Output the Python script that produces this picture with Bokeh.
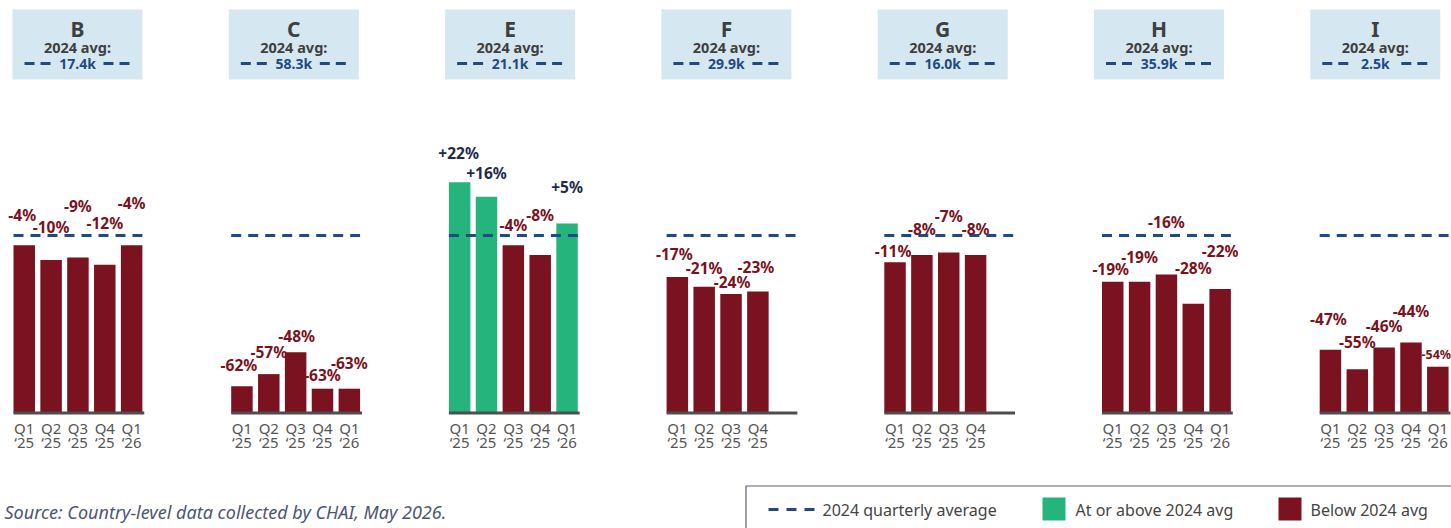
from bokeh.plotting import figure
from bokeh.models import Range1d
from bokeh.core.properties import value
from bokeh.embed import file_html
from bokeh.resources import INLINE

# ---- data -------------------------------------------------------------
countries = ["B", "C", "E", "F", "G", "H", "I"]
avg_2024 = ["17.4k", "58.3k", "21.1k", "29.9k", "16.0k", "35.9k", "2.5k"]
quarters = ["Q1", "Q2", "Q3", "Q4", "Q1"]
quarter_years = ["\u201825", "\u201825", "\u201825", "\u201825", "\u201826"]

# % change versus the 2024 quarterly average
pct_B = [-4, -10, -9, -12, -4]
pct_C = [-62, -57, -48, -63, -63]
pct_E = [22, 16, -4, -8, 5]
pct_F = [-17, -21, -24, -23]
pct_G = [-11, -8, -7, -8]
pct_H = [-19, -19, -16, -28, -22]
pct_I = [-47, -55, -46, -44, -54]
panel_pcts = [pct_B, pct_C, pct_E, pct_F, pct_G, pct_H, pct_I]

# ---- layout / style ---------------------------------------------------
W, H = 1451, 528
FONT = value("Noto Sans")
MAROON = "#7a1220"
GREEN = "#25b47c"
NAVY = "#1f4a82"
DARK_TEXT = "#3f3f3f"
POS_TEXT = "#1c2a4a"

PX_PER_PCT = 2.43          # vertical scale
Y_FLOOR = -73              # value at the bar baseline
FLOOR_PX = 412.5           # baseline distance from top of canvas
SLOT_PX = 26.85            # horizontal size of one quarter slot
FIRST_CENTER_PX = 13 + 0.4 * SLOT_PX
PANEL_STEP = 217.7 / SLOT_PX
BAR_W = 0.8
HEADER_STEP_PX = 216.3

# how far each value label sits above its bar top (px)
label_lift = [
    [30, 33, 51, 42, 42],
    [21, 22, 16, 14, 26],
    [29, 24, 20, 40, 36],
    [23, 19, 12, 25],
    [11, 26, 37, 26],
    [13, 25, 52, 36, 38],
    [31, 27, 21, 32, 12],
]
# sideways nudge of value labels (px)
label_shift = [
    [-2, 0, 0, 0, 0],
    [-3, 0, 1, 0, 0],
    [-1, 0, 0, 0, 0],
    [-3, 0, 1, -2],
    [-2, 0, 0, 0],
    [-2, 0, 0, 0, 0],
    [-2, 0, 0, 0, -1.5],
]
LABEL_SIZE = "15.5px"
EDGE_LABEL_SIZE = "12.5px"   # last label of the right-most panel, kept inside the canvas

x_start = -FIRST_CENTER_PX / SLOT_PX
x_end = x_start + W / SLOT_PX
y_start = Y_FLOOR - (H - FLOOR_PX) / PX_PER_PCT
y_end = Y_FLOOR + FLOOR_PX / PX_PER_PCT

p = figure(width=W, height=H, x_range=Range1d(x_start, x_end),
           y_range=Range1d(y_start, y_end), output_backend="svg",
           toolbar_location=None, x_axis_type=None, y_axis_type=None,
           min_border=0, outline_line_color=None)
p.extra_x_ranges = {"px": Range1d(0, W)}
p.extra_y_ranges = {"px": Range1d(H, 0)}
PX = dict(x_range_name="px", y_range_name="px")
p.background_fill_color = "white"
p.border_fill_color = "white"

# ---- header boxes -----------------------------------------------------
for k, (name, avg) in enumerate(zip(countries, avg_2024)):
    left = 12 + k * HEADER_STEP_PX
    cx = left + 65
    p.quad(left=[left], right=[left + 130], top=[9], bottom=[79],
           fill_color="#d5e8f1", line_color=None, **PX)
    p.text(x=[cx], y=[28], text=[name], text_font=FONT, text_font_size="21px",
           text_font_style="bold", text_color=DARK_TEXT, text_align="center",
           text_baseline="middle", **PX)
    p.text(x=[cx], y=[46.5], text=["2024 avg:"], text_font=FONT,
           text_font_size="14.5px", text_font_style="bold", text_color=DARK_TEXT,
           text_align="center", text_baseline="middle", **PX)
    p.text(x=[cx], y=[63], text=[avg], text_font=FONT, text_font_size="14px",
           text_font_style="bold", text_color=NAVY, text_align="center",
           text_baseline="middle", **PX)
    p.segment(x0=[cx - 53, cx + 26], x1=[cx - 27, cx + 52], y0=[63, 63],
              y1=[63, 63], line_color=NAVY, line_width=2.8, line_dash="10 6",
              **PX)

# ---- panels -----------------------------------------------------------
last_panel = len(panel_pcts) - 1
for k, pcts in enumerate(panel_pcts):
    base = k * PANEL_STEP
    n = len(pcts)
    xs = [base + i for i in range(n)]
    colors = [GREEN if v >= 0 else MAROON for v in pcts]
    p.vbar(x=xs, top=pcts, bottom=Y_FLOOR, width=BAR_W, fill_color=colors,
           line_color=None)
    # 2024 quarterly average reference line
    p.segment(x0=[base - BAR_W / 2], x1=[base + 4 + BAR_W / 2], y0=[0], y1=[0],
              line_color=NAVY, line_width=3, line_dash="10 7")
    # baseline
    p.segment(x0=[base - BAR_W / 2], x1=[base + 4 + BAR_W / 2 + 0.07],
              y0=[Y_FLOOR], y1=[Y_FLOOR], line_color="#4d4d4d", line_width=3)
    # value labels
    texts = [("+%d%%" % v) if v > 0 else ("%d%%" % v) for v in pcts]
    lx = [x + s / SLOT_PX for x, s in zip(xs, label_shift[k])]
    ly = [v + lift / PX_PER_PCT for v, lift in zip(pcts, label_lift[k])]
    tcol = [POS_TEXT if v >= 0 else MAROON for v in pcts]
    sizes = [LABEL_SIZE] * n
    if k == last_panel:
        sizes[-1] = EDGE_LABEL_SIZE
    p.text(x=lx, y=ly, text=texts, text_font=FONT, text_font_size=sizes,
           text_font_style="bold", text_color=tcol, text_align="center",
           text_baseline="middle")
    # quarter labels
    p.text(x=xs, y=[Y_FLOOR - 14.5 / PX_PER_PCT] * n, text=quarters[:n],
           text_font=FONT, text_font_size="15px", text_color="#555555",
           text_align="center", text_baseline="middle")
    p.text(x=xs, y=[Y_FLOOR - 29 / PX_PER_PCT] * n, text=quarter_years[:n],
           text_font=FONT, text_font_size="15px", text_color="#555555",
           text_align="center", text_baseline="middle")

# ---- source note ------------------------------------------------------
p.text(x=[4], y=[511], text=["Source: Country-level data collected by CHAI, May 2026."],
       text_font=FONT, text_font_size="18px", text_font_style="italic",
       text_color="#4d5670", text_baseline="middle", **PX)

# ---- legend -----------------------------------------------------------
p.quad(left=[745.5], right=[1470], top=[485.5], bottom=[560], fill_color=None,
       line_color="#5a6070", line_width=1.2, **PX)
p.segment(x0=[768], x1=[815], y0=[509], y1=[509], line_color=NAVY,
          line_width=3, line_dash="10 8", **PX)
p.quad(left=[1042, 1278], right=[1065, 1301], top=[497, 497], bottom=[520, 520],
       fill_color=[GREEN, MAROON], line_color=None, **PX)
p.text(x=[822, 1075, 1310], y=[509, 509, 509],
       text=["2024 quarterly average", "At or above 2024 avg", "Below 2024 avg"],
       text_font=FONT, text_font_size="16px", text_color="#444444",
       text_baseline="middle", **PX)

open("out.html", "w").write(file_html(p, INLINE))
